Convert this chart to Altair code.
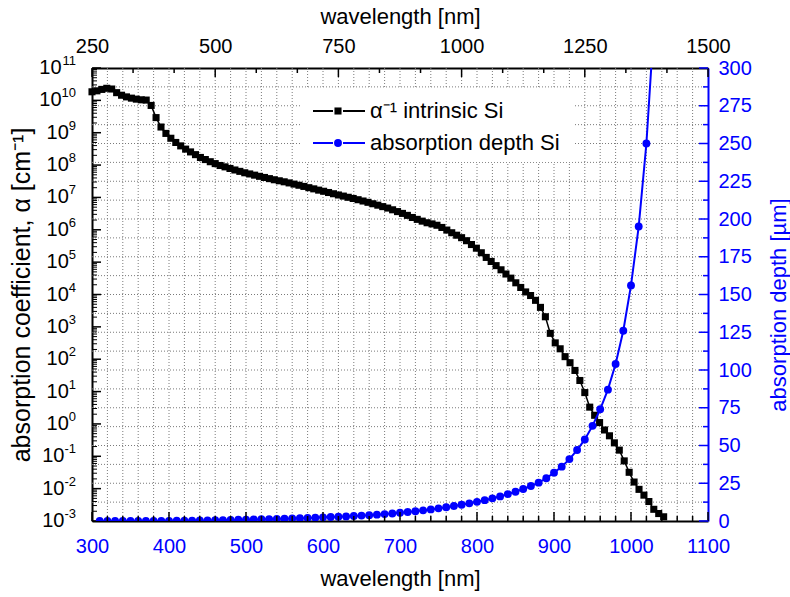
import altair as alt
import pandas as pd

# ---- data -------------------------------------------------------------
# absorption coefficient of intrinsic Si, sampled every 10 nm (top wavelength axis)
alpha_wl = list(range(250, 1420, 10))
alpha_val = [
    1.84e10, 1.97e10, 2.18e10, 2.36e10, 2.24e10, 1.73e10, 1.44e10, 1.28e10, 1.17e10, 1.09e10,
    1.04e10, 1.02e10, 6.97e9, 2.93e9, 1.50e9, 9.52e8, 6.74e8, 5.00e8, 3.92e8, 3.11e8,
    2.55e8, 2.10e8, 1.72e8, 1.48e8, 1.27e8, 1.11e8, 9.70e7, 8.80e7, 7.85e7, 7.05e7,
    6.39e7, 5.78e7, 5.32e7, 4.88e7, 4.49e7, 4.14e7, 3.81e7, 3.52e7, 3.27e7, 3.04e7,
    2.81e7, 2.58e7, 2.38e7, 2.19e7, 2.00e7, 1.84e7, 1.68e7, 1.55e7, 1.42e7, 1.30e7,
    1.19e7, 1.10e7, 1.01e7, 9.28e6, 8.50e6, 7.75e6, 7.07e6, 6.38e6, 5.76e6, 5.20e6,
    4.69e6, 4.15e6, 3.65e6, 3.21e6, 2.79e6, 2.40e6, 2.10e6, 1.85e6, 1.65e6, 1.52e6,
    1.38e6, 1.18e6, 9.8e5, 8.1e5, 6.8e5, 5.7e5, 4.6e5, 3.5e5, 2.7e5, 1.95e5,
    1.4e5, 1.05e5, 7.8e4, 5.8e4, 4.3e4, 3.2e4, 2.3e4, 1.65e4, 1.2e4, 9.3e3,
    6.6e3, 4.0e3, 2.05e3, 6.3e2, 3.2e2, 2.1e2, 1.2e2, 78, 45, 22,
    9.3, 3.3, 1.85, 1.1, 0.65, 0.43, 0.26, 0.155, 0.072, 0.032,
    0.016, 0.0095, 0.0063, 0.004, 0.0023, 0.0017, 0.00135,
]

# absorption depth in Si [um] (bottom wavelength axis)
depth_wl = list(range(310, 1040, 10))
depth_val = [
    0.0069, 0.0078, 0.0085, 0.0092, 0.0096, 0.0098, 0.0143, 0.034, 0.067, 0.105,
    0.148, 0.20, 0.255, 0.322, 0.392, 0.476, 0.581, 0.676, 0.787, 0.90,
    1.03, 1.14, 1.27, 1.42, 1.56, 1.73, 1.88, 2.05, 2.23, 2.42,
    2.62, 2.84, 3.06, 3.29, 3.56, 3.88, 4.20, 4.57, 5.00, 5.43,
    5.95, 6.45, 7.04, 7.69, 8.40, 9.09, 9.90, 10.8, 11.7, 12.7,
    13.8, 15.0, 16.3, 17.8, 19.4, 21.2, 23.2, 25.4, 28.3, 32.0,
    36.0, 41.0, 47.0, 54.0, 63.0, 74.0, 87.0, 104.0, 126.0, 156.0,
    195.0, 250.0, 330.0,
]

# axis ticks
top_major = [250, 500, 750, 1000, 1250, 1500]
top_minor = [250 + 250 * i / 3 for i in range(16) if i % 3]
bottom_major = [300, 400, 500, 600, 700, 800, 900, 1000, 1100]
bottom_minor = [v for v in range(300, 1101, 20) if v % 100]
right_major = [0, 25, 50, 75, 100, 125, 150, 175, 200, 225, 250, 275, 300]
right_minor = [12.5 + 25 * i for i in range(12)]
left_exp = list(range(-3, 12))
left_minor = [m * 10.0 ** k for k in range(-3, 11) for m in range(2, 10)]

# ---- style -------------------------------------------------------------
W, H = 616, 453
FONT = "Liberation Sans"
BLUE = "#0000ff"
GRID = "#7a7a7a"
MAJ, MIN = 9, 5

alpha_df = pd.DataFrame({"wl": alpha_wl, "v": alpha_val})
depth_df = pd.DataFrame({"wl": depth_wl, "v": depth_val})

sx_top = alt.Scale(domain=[250, 1500], nice=False, zero=False)
sy_log = alt.Scale(type="log", domain=[1e-3, 1e11], nice=False)
sx_bot = alt.Scale(domain=[300, 1100], nice=False, zero=False)
sy_lin = alt.Scale(domain=[0, 300], nice=False, zero=False)

common = dict(ticks=False, tickSize=0, grid=False, labelFont=FONT, titleFont=FONT,
              titleFontWeight="normal", domainWidth=2, labelFlush=False, labelOverlap=False,
              titleAlign="center", titleBaseline="middle")

axis_top = alt.Axis(orient="top", values=top_major, format="d", labelFontSize=20,
                    labelColor="black", labelPadding=22, labelBaseline="middle",
                    domainColor="black", title="wavelength [nm]", titleFontSize=22,
                    titleColor="black", titleX=W / 2, titleY=-52, **common)
axis_left = alt.Axis(orient="left", labels=False, domainColor="black",
                     title="absorption coefficient, α [cm⁻¹]", titleFontSize=25,
                     titleColor="black", titleAngle=270, titleX=-71, titleY=H / 2, **common)
axis_bottom = alt.Axis(orient="bottom", values=bottom_major, format="d", labelFontSize=20,
                       labelColor=BLUE, labelPadding=25, labelBaseline="middle",
                       domainColor="black", title="wavelength [nm]", titleFontSize=22,
                       titleColor="black", titleX=W / 2, titleY=57, **common)
axis_right = alt.Axis(orient="right", values=right_major, format="d", labelFontSize=20,
                      labelColor=BLUE, labelPadding=10, labelAlign="left",
                      labelBaseline="middle", domainColor=BLUE,
                      title="absorption depth [µm]", titleFontSize=22, titleColor=BLUE,
                      titleAngle=270, titleX=70, titleY=H / 2 + 10, **common)


def one_row():
    return pd.DataFrame({"k": [0]})


# ---- background grid (bottom / right scales) --------------------------
grid_v = alt.Chart(pd.DataFrame({"wl": bottom_minor + bottom_major[1:-1]})).mark_rule(
    color=GRID, strokeWidth=1, strokeDash=[1, 2]
).encode(x=alt.X("wl:Q", scale=sx_bot, axis=None), y=alt.value(0), y2=alt.value(H))

grid_h = alt.Chart(pd.DataFrame({"v": right_minor + right_major[1:-1]})).mark_rule(
    color=GRID, strokeWidth=1, strokeDash=[1, 2]
).encode(y=alt.Y("v:Q", scale=sy_lin, axis=None), x=alt.value(0), x2=alt.value(W))

legend_box = alt.Chart(one_row()).mark_rect(color="white").encode(
    x=alt.value(210), x2=alt.value(483), y=alt.value(20), y2=alt.value(94)
)

# ---- absorption coefficient (top / left scales) ------------------------
xt = alt.X("wl:Q", scale=sx_top, axis=axis_top)
yl = alt.Y("v:Q", scale=sy_log, axis=axis_left)

alpha_line = alt.Chart(alpha_df).mark_line(color="black", strokeWidth=1.5).encode(x=xt, y=yl)
alpha_pts = alt.Chart(alpha_df).mark_point(
    shape="square", filled=True, size=50, color="black", opacity=1
).encode(x=xt, y=yl)

top_tick_major = alt.Chart(pd.DataFrame({"wl": top_major})).mark_rule(
    color="black", strokeWidth=1.5).encode(x=xt, y=alt.value(0), y2=alt.value(MAJ))
top_tick_minor = alt.Chart(pd.DataFrame({"wl": top_minor})).mark_rule(
    color="black", strokeWidth=1.5).encode(x=xt, y=alt.value(0), y2=alt.value(MIN))
left_tick_major = alt.Chart(pd.DataFrame({"v": [10.0 ** k for k in left_exp]})).mark_rule(
    color="black", strokeWidth=1.5).encode(y=yl, x=alt.value(0), x2=alt.value(MAJ))
left_tick_minor = alt.Chart(pd.DataFrame({"v": left_minor})).mark_rule(
    color="black", strokeWidth=1).encode(y=yl, x=alt.value(0), x2=alt.value(MIN))

alpha_group = alt.layer(alpha_line, alpha_pts, top_tick_major, top_tick_minor,
                        left_tick_major, left_tick_minor)

# ---- absorption depth (bottom / right scales) ---------------------------
xb = alt.X("wl:Q", scale=sx_bot, axis=axis_bottom)
yr = alt.Y("v:Q", scale=sy_lin, axis=axis_right)

depth_line = alt.Chart(depth_df).mark_line(color=BLUE, strokeWidth=2, clip=True).encode(x=xb, y=yr)
depth_pts = alt.Chart(depth_df).mark_point(
    shape="circle", filled=True, size=62, color=BLUE, opacity=1, clip=True
).encode(x=xb, y=yr)

bot_tick_major = alt.Chart(pd.DataFrame({"wl": bottom_major})).mark_rule(
    color="black", strokeWidth=1.5).encode(x=xb, y=alt.value(H), y2=alt.value(H - MAJ))
bot_tick_minor = alt.Chart(pd.DataFrame({"wl": bottom_minor})).mark_rule(
    color="black", strokeWidth=1.5).encode(x=xb, y=alt.value(H), y2=alt.value(H - MIN))
right_tick_major = alt.Chart(pd.DataFrame({"v": right_major})).mark_rule(
    color=BLUE, strokeWidth=1.5).encode(y=yr, x=alt.value(W), x2=alt.value(W - MAJ))
right_tick_minor = alt.Chart(pd.DataFrame({"v": right_minor})).mark_rule(
    color=BLUE, strokeWidth=1.5).encode(y=yr, x=alt.value(W), x2=alt.value(W - MIN))

depth_group = alt.layer(depth_line, depth_pts, bot_tick_major, bot_tick_minor,
                        right_tick_major, right_tick_minor)

# ---- decade labels 10^k on the left axis ---------------------------------
dec_df = pd.DataFrame({"e": [str(k) for k in left_exp], "v": [10.0 ** k for k in left_exp]})
dec_base = alt.Chart(dec_df).transform_calculate(
    ex="-16",
    bx="-16 - (length(datum.e) * 7.2 - (indexof(datum.e, '-') >= 0 ? 2.9 : 0))",
)
dec_ten = dec_base.mark_text(align="right", baseline="middle", font=FONT, fontSize=20,
                             color="black").encode(
    x=alt.X("bx:Q", scale=None), y=alt.Y("v:Q", scale=sy_log, axis=None), text=alt.value("10"))
dec_exp = dec_base.mark_text(align="right", baseline="alphabetic", font=FONT, fontSize=13,
                             color="black", dy=-3).encode(
    x=alt.X("ex:Q", scale=None), y=alt.Y("v:Q", scale=sy_log, axis=None), text="e:N")

# ---- legend ---------------------------------------------------------------
def legend_entry(y, color, shape, size, label):
    seg1 = alt.Chart(one_row()).mark_rule(color=color, strokeWidth=2).encode(
        x=alt.value(221), x2=alt.value(241), y=alt.value(y))
    seg2 = alt.Chart(one_row()).mark_rule(color=color, strokeWidth=2).encode(
        x=alt.value(251), x2=alt.value(273), y=alt.value(y))
    mk = alt.Chart(one_row()).mark_point(shape=shape, filled=True, size=size, color=color,
                                          opacity=1).encode(x=alt.value(246), y=alt.value(y))
    tx = alt.Chart(one_row()).mark_text(align="left", baseline="middle", font=FONT,
                                         fontSize=22, color="black").encode(
        x=alt.value(278), y=alt.value(y), text=alt.value(label))
    return [seg1, seg2, mk, tx]


legend_layers = (legend_entry(43, "black", "square", 50, "α⁻¹ intrinsic Si")
                 + legend_entry(75, BLUE, "circle", 62, "absorption depth Si"))

chart = alt.layer(
    grid_v, grid_h, legend_box, alpha_group, depth_group, dec_ten, dec_exp, *legend_layers
).resolve_scale(x="independent", y="independent").properties(
    width=W, height=H,
    autosize=alt.AutoSizeParams(type="none"),
    padding={"left": 92, "top": 68, "right": 82, "bottom": 76},
).configure_view(stroke=None).configure(background="white")

chart.save("out.html", embed_options={"renderer": "svg", "actions": False})
